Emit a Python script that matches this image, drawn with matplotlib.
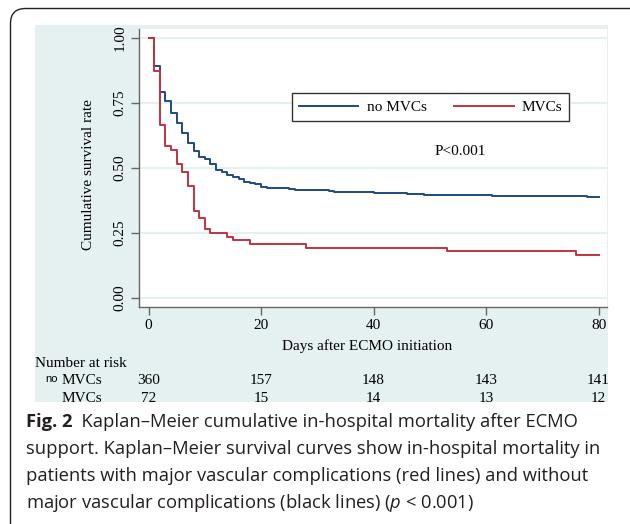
import matplotlib
matplotlib.use("Agg")
import matplotlib.pyplot as plt
import matplotlib.transforms as mtrans
from matplotlib.patches import FancyBboxPatch

# Kaplan-Meier steps
no_mvc_days = [0, 1, 2, 3, 4, 5, 6, 7, 8, 9, 10, 11, 12, 13, 14, 15, 16, 17, 18, 19, 20, 21,
               25, 26, 32, 33, 40, 46, 49, 61, 78, 80]
no_mvc_surv = [1.0, 0.893, 0.794, 0.756, 0.713, 0.675, 0.636, 0.598, 0.566, 0.544, 0.533,
               0.514, 0.492, 0.486, 0.473, 0.467, 0.457, 0.447, 0.441, 0.437, 0.428, 0.424,
               0.418, 0.415, 0.412, 0.409, 0.405, 0.401, 0.396, 0.393, 0.390, 0.390]

mvc_days = [0, 1, 2, 3, 4, 5, 6, 7, 8, 9, 10, 11, 14, 15, 18, 28, 53, 76, 80]
mvc_surv = [1.0, 0.875, 0.667, 0.583, 0.569, 0.514, 0.486, 0.431, 0.333, 0.306, 0.264,
            0.25, 0.236, 0.222, 0.208, 0.194, 0.181, 0.167, 0.167]

risk_times = [0, 20, 40, 60, 80]
at_risk_no_mvc = [360, 157, 148, 143, 141]
at_risk_mvc = [72, 15, 14, 13, 12]

y_ticks = [0, 0.25, 0.5, 0.75, 1.0]
y_tick_labels = ["0.00", "0.25", "0.50", "0.75", "1.00"]

caption_first = "  Kaplan\u2013Meier cumulative in-hospital mortality after ECMO"
caption = [
    "support. Kaplan\u2013Meier survival curves show in-hospital mortality in",
    "patients with major vascular complications (red lines) and without",
    "major vascular complications (black lines) ($p$ < 0.001)",
]

BLUE = "#1e4b82"
RED = "#c4323f"
PANEL = "#e5f0f1"
SERIF = "Liberation Serif"
CAP_FONT = "Open Sans"
FS = 11
CAP_FS = 13.2

plt.rcParams["mathtext.fontset"] = "custom"
plt.rcParams["mathtext.it"] = CAP_FONT + ":italic"
plt.rcParams["mathtext.rm"] = CAP_FONT

W, H = 630, 524


def fx(px):
    return px / W


def fy(py):
    return 1 - py / H


fig = plt.figure(figsize=(6.3, 5.24), dpi=100)

# rounded frame around figure + caption
frame = FancyBboxPatch((0.105, -0.2), 6.4, 5.155 + 0.2,
                       boxstyle="round,pad=0,rounding_size=0.15",
                       transform=fig.dpi_scale_trans, fill=False,
                       edgecolor="#222222", linewidth=1.0)
fig.add_artist(frame)

# light panel behind the chart
bg = fig.add_axes([fx(35), fy(402), fx(608) - fx(35), fy(25) - fy(402)])
bg.set_facecolor(PANEL)
bg.set_xticks([])
bg.set_yticks([])
for s in bg.spines.values():
    s.set_visible(False)

ax = fig.add_axes([fx(138.6), fy(307), fx(607) - fx(138.6), fy(29) - fy(307)])
ax.set_facecolor("white")
ax.step(no_mvc_days, no_mvc_surv, where="post", color=BLUE, lw=1.4, label="no MVCs")
ax.step(mvc_days, mvc_surv, where="post", color=RED, lw=1.4, label="MVCs")

ax.set_xlim(-1.78, 81.5)
ax.set_ylim(-0.035, 1.035)
ax.set_xticks(risk_times)
ax.set_yticks(y_ticks)
ax.set_yticklabels(y_tick_labels, rotation=90, va="center")
ax.grid(axis="y", color=PANEL, lw=1.5)
ax.set_axisbelow(True)
for side in ["top", "right"]:
    ax.spines[side].set_visible(False)
for side in ["left", "bottom"]:
    ax.spines[side].set_color("#666666")
    ax.spines[side].set_linewidth(1.0)
ax.tick_params(length=5.5, width=1.0, color="#666666", labelsize=FS, pad=3)
for lab in ax.get_xticklabels() + ax.get_yticklabels():
    lab.set_fontfamily(SERIF)

ax.set_ylabel("Cumulative survival rate", fontsize=FS, family=SERIF)
ax.yaxis.set_label_coords(-0.094, 0.475)
ax.set_xlabel("Days after ECMO initiation", fontsize=FS, family=SERIF)
ax.xaxis.set_label_coords(0.487, -0.115)

leg = ax.legend(ncol=2, loc="upper left", bbox_to_anchor=(fx(291.7), fy(93.3)),
                bbox_transform=fig.transFigure, borderaxespad=0, fancybox=False,
                edgecolor="#333333", framealpha=1, prop={"family": SERIF, "size": FS},
                handlelength=3.9, handletextpad=0.55, columnspacing=1.8, borderpad=0.45)
leg.get_frame().set_linewidth(1.0)

fig.text(fx(460), fy(151.7), "P<0.001", ha="center", va="center",
         family=SERIF, fontsize=FS)

# number at risk table
fig.text(fx(35), fy(367), "Number at risk", ha="left", va="baseline",
         family=SERIF, fontsize=FS)
fig.text(fx(45), fy(382), "no", ha="left", va="baseline",
         family="Liberation Sans", fontsize=8)
blend = mtrans.blended_transform_factory(ax.transData, fig.transFigure)
rows = [(at_risk_no_mvc, 384), (at_risk_mvc, 402)]
for counts, base in rows:
    t = fig.text(fx(62), fy(base), "MVCs", ha="left", va="baseline",
                 family=SERIF, fontsize=FS, clip_on=True)
    t.set_clip_box(bg.bbox)
    for d, n in zip(risk_times, counts):
        t = fig.text(d, fy(base), str(n), transform=blend, ha="center",
                     va="baseline", family=SERIF, fontsize=FS, clip_on=True)
        t.set_clip_box(bg.bbox)

# caption
cap_color = "#231f20"
t0 = fig.text(fx(26), fy(427), "Fig. 2", ha="left", va="baseline",
              family=CAP_FONT, fontsize=CAP_FS, weight="bold", color=cap_color)
fig.canvas.draw()
ext = t0.get_window_extent()
fig.text(ext.x1 / W, fy(427), caption_first, ha="left", va="baseline",
         family=CAP_FONT, fontsize=CAP_FS, color=cap_color)
for i, line in enumerate(caption):
    fig.text(fx(26), fy(454 + 27 * i), line, ha="left", va="baseline",
             family=CAP_FONT, fontsize=CAP_FS, color=cap_color)

fig.savefig("out.png", dpi=100)
